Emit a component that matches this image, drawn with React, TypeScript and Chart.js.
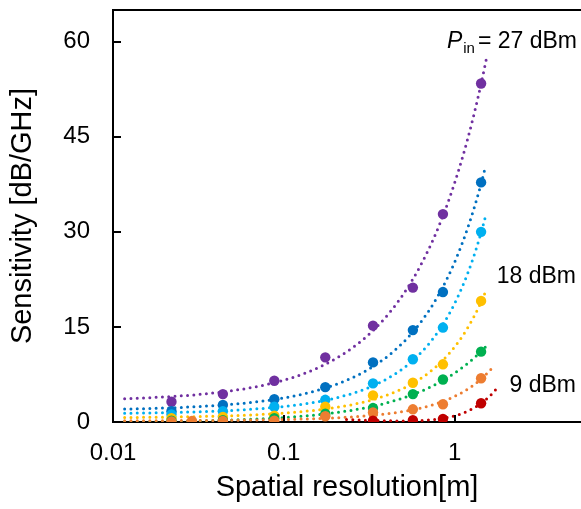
import React, { useEffect, useRef } from "react";
import { Chart, registerables } from "chart.js";

Chart.register(...registerables);

// ---- data ----
const xRes = [0.022, 0.044, 0.088, 0.175, 0.333, 0.57, 0.855, 1.43];
const xResOrange = [0.022, 0.029, 0.044, 0.088, 0.175, 0.333, 0.57, 0.855, 1.43];
const xResRed = [0.333, 0.57, 0.855, 1.43];

const sens27 = [3.2, 4.4, 6.5, 10.2, 15.2, 21.2, 32.8, 53.4];
const sens24 = [1.7, 2.7, 3.6, 5.5, 9.4, 14.5, 20.5, 37.8];
const sens21 = [1.2, 1.7, 2.4, 3.5, 6.1, 9.9, 14.9, 30.0];
const sens18 = [0.6, 0.8, 1.0, 2.4, 4.2, 6.2, 9.1, 19.1];
const sens15 = [0.2, 0.3, 0.6, 1.3, 2.2, 4.4, 6.7, 11.1];
const sens12 = [0.1, 0.15, 0.15, 0.2, 0.9, 1.5, 2.0, 2.8, 6.9];
const sens9 = [0.2, 0.3, 0.5, 2.95];

const powerNames = ["27 dBm", "24 dBm", "21 dBm", "18 dBm", "15 dBm", "12 dBm", "9 dBm"];
const seriesX = [xRes, xRes, xRes, xRes, xRes, xResOrange, xResRed];
const seriesY = [sens27, sens24, sens21, sens18, sens15, sens12, sens9];
const seriesColors = ["#7030A0", "#0070C0", "#00B0F0", "#FFC000", "#00B050", "#ED7D31", "#C00000"];
const trendFrom = [0.0117, 0.0117, 0.0117, 0.0117, 0.0117, 0.0117, 0.233];
const trendTo = [1.53, 1.52, 1.53, 1.53, 1.6, 1.64, 1.75];

const xTickValues = [0.01, 0.1, 1];
const yTickValues = [0, 15, 30, 45, 60];
const xMin = 0.01;
const xMax = 5.5;
const yMin = 0;
const yMax = 65;

const FONT = "'Liberation Sans', Arial, Helvetica, sans-serif";

// least-squares polynomial (order 2) trendline, like a spreadsheet trendline
function quadFit(xs: number[], ys: number[]) {
  let s0 = 0, s1 = 0, s2 = 0, s3 = 0, s4 = 0, t0 = 0, t1 = 0, t2 = 0;
  for (let i = 0; i < xs.length; i++) {
    const x = xs[i], y = ys[i];
    s0 += 1; s1 += x; s2 += x * x; s3 += x * x * x; s4 += x * x * x * x;
    t0 += y; t1 += x * y; t2 += x * x * y;
  }
  const M = [
    [s0, s1, s2, t0],
    [s1, s2, s3, t1],
    [s2, s3, s4, t2],
  ];
  for (let c = 0; c < 3; c++) {
    let p = c;
    for (let r = c + 1; r < 3; r++) if (Math.abs(M[r][c]) > Math.abs(M[p][c])) p = r;
    [M[c], M[p]] = [M[p], M[c]];
    for (let r = 0; r < 3; r++) {
      if (r === c) continue;
      const f = M[r][c] / M[c][c];
      for (let k = c; k < 4; k++) M[r][k] -= f * M[c][k];
    }
  }
  const a = M[0][3] / M[0][0], b = M[1][3] / M[1][1], q = M[2][3] / M[2][2];
  return (x: number) => a + b * x + q * x * x;
}

function trendPoints(i: number) {
  const f = quadFit(seriesX[i], seriesY[i]);
  const pts: { x: number; y: number }[] = [];
  const n = 120;
  const l0 = Math.log10(trendFrom[i]);
  const l1 = Math.log10(trendTo[i]);
  for (let k = 0; k <= n; k++) {
    const x = Math.pow(10, l0 + ((l1 - l0) * k) / n);
    pts.push({ x, y: f(x) });
  }
  return pts;
}

const decorPlugin = {
  id: "decor",
  afterDraw(chart: any) {
    const { ctx, chartArea } = chart;
    const xs = chart.scales.x;
    const ys = chart.scales.y;
    ctx.save();
    ctx.strokeStyle = "#000";
    ctx.lineWidth = 2;
    // top frame line
    ctx.beginPath();
    ctx.moveTo(chartArea.left - 1, chartArea.top);
    ctx.lineTo(chartArea.right, chartArea.top);
    ctx.stroke();
    // inward tick marks
    ctx.beginPath();
    for (const v of yTickValues) {
      if (v === yMin) continue;
      const py = Math.round(ys.getPixelForValue(v));
      ctx.moveTo(chartArea.left, py);
      ctx.lineTo(chartArea.left + 8, py);
    }
    for (const v of xTickValues) {
      if (v === xMin) continue;
      const px = Math.round(xs.getPixelForValue(v));
      ctx.moveTo(px, chartArea.bottom);
      ctx.lineTo(px, chartArea.bottom - 7);
    }
    ctx.stroke();

    // annotations
    ctx.fillStyle = "#000";
    ctx.textBaseline = "alphabetic";
    const R = chartArea.right - 4;
    ctx.textAlign = "right";
    ctx.font = `23px ${FONT}`;
    ctx.fillText("18 dBm", R - 1, ys.getPixelForValue(21.95));
    ctx.fillText("9 dBm", R - 1, ys.getPixelForValue(4.79));
    const yb = ys.getPixelForValue(59.0);
    const main = "= 27 dBm";
    ctx.fillText(main, R, yb);
    const w1 = ctx.measureText(main).width;
    ctx.font = `15px ${FONT}`;
    const sub = "in";
    const w2 = ctx.measureText(sub).width;
    ctx.fillText(sub, R - w1 - 3, yb + 5);
    ctx.font = `italic 23px ${FONT}`;
    ctx.fillText("P", R - w1 - 3 - w2 - 1, yb);
    ctx.restore();
  },
};

export default function App() {
  const ref = useRef<HTMLCanvasElement | null>(null);

  useEffect(() => {
    if (!ref.current) return;
    const datasets: any[] = [];
    // markers (later series on top)
    for (let i = 0; i < seriesY.length; i++) {
      datasets.push({
        label: powerNames[i],
        data: seriesY[i].map((y, k) => ({ x: seriesX[i][k], y })),
        backgroundColor: seriesColors[i],
        borderColor: seriesColors[i],
        borderWidth: 0,
        pointRadius: 5.2,
        pointHoverRadius: 5.2,
        showLine: false,
        order: 20 - i,
      });
    }
    // trendlines
    for (let i = 0; i < seriesY.length; i++) {
      datasets.push({
        label: powerNames[i] + " trend",
        data: trendPoints(i),
        borderColor: seriesColors[i],
        backgroundColor: seriesColors[i],
        borderWidth: 3,
        borderDash: [0, 6.3],
        borderCapStyle: "round",
        pointRadius: 0,
        showLine: true,
        fill: false,
        tension: 0,
        order: 100 - i,
      });
    }

    const chart = new Chart(ref.current, {
      type: "scatter",
      data: { datasets },
      plugins: [decorPlugin],
      options: {
        animation: false,
        responsive: true,
        maintainAspectRatio: false,
        layout: { autoPadding: false, padding: { top: 10, right: 0, left: 0, bottom: 0 } },
        plugins: {
          legend: { display: false },
          tooltip: { enabled: false },
        },
        scales: {
          x: {
            type: "logarithmic",
            min: xMin,
            max: xMax,
            afterBuildTicks: (scale: any) => {
              scale.ticks = xTickValues.map((v) => ({ value: v }));
            },
            afterFit: (scale: any) => {
              scale.height = 87;
              scale.paddingLeft = 0;
              scale.paddingRight = 0;
              scale.paddingTop = 0;
              scale.paddingBottom = 0;
            },
            grid: { display: false, drawTicks: false },
            border: { display: true, color: "#000", width: 2 },
            ticks: {
              color: "#000",
              font: { family: FONT, size: 24 },
              padding: 17,
              autoSkip: false,
              maxRotation: 0,
              callback: (v: any) => String(v),
            },
            title: {
              display: true,
              text: "Spatial resolution[m]",
              color: "#000",
              font: { family: FONT, size: 29 },
              padding: { top: 0, bottom: 4 },
            },
          },
          y: {
            type: "linear",
            min: yMin,
            max: yMax,
            afterBuildTicks: (scale: any) => {
              scale.ticks = yTickValues.map((v) => ({ value: v }));
            },
            afterFit: (scale: any) => {
              scale.width = 113;
              scale.paddingLeft = 0;
              scale.paddingRight = 0;
              scale.paddingTop = 0;
              scale.paddingBottom = 0;
            },
            grid: { display: false, drawTicks: false },
            border: { display: true, color: "#000", width: 2 },
            ticks: {
              color: "#000",
              font: { family: FONT, size: 24 },
              padding: 23,
              callback: (v: any) => String(v),
            },
            title: {
              display: true,
              text: "Sensitivity [dB/GHz]",
              color: "#000",
              font: { family: FONT, size: 29 },
              padding: { top: 6, bottom: 0 },
            },
          },
        },
      },
    } as any);
    return () => chart.destroy();
  }, []);

  return (
    <div style={{ position: "absolute", left: 0, top: 0, width: 581, height: 509, background: "#fff" }}>
      <canvas ref={ref} />
    </div>
  );
}
